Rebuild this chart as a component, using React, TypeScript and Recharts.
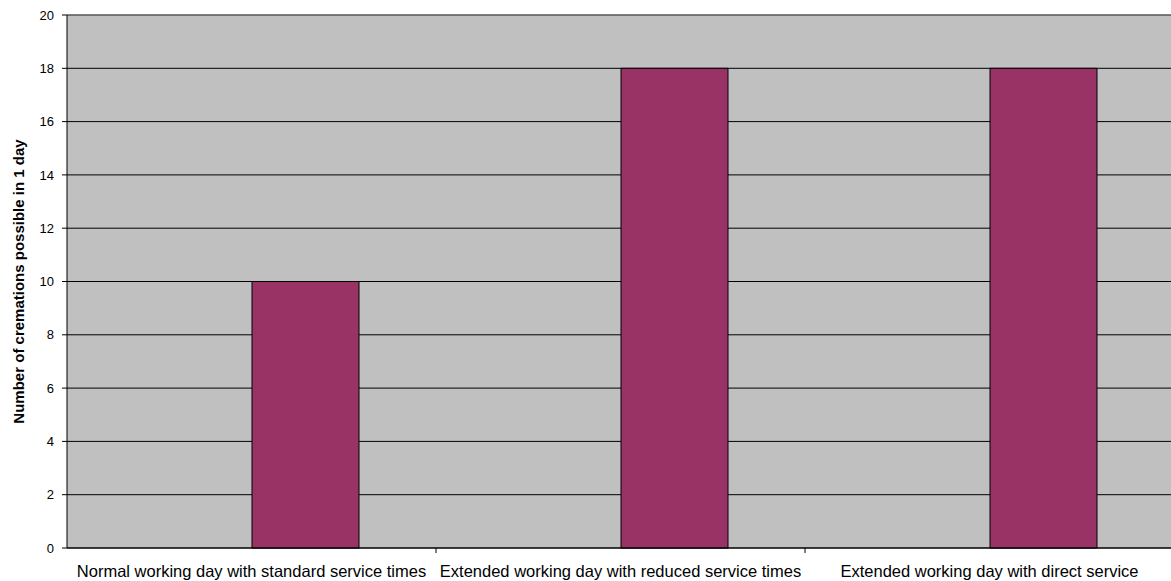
import React from "react";
import {
  BarChart,
  Bar,
  XAxis,
  YAxis,
  CartesianGrid,
  ReferenceLine,
  Label,
} from "recharts";

const categories = [
  "Normal working day with standard service times",
  "Extended working day with reduced service times",
  "Extended working day with direct service",
];
// the original chart has an empty first series, so the bars sit right of centre
const emptySeries: (number | null)[] = [null, null, null];
const cremations = [10, 18, 18];
const yTicks = [0, 2, 4, 6, 8, 10, 12, 14, 16, 18, 20];

const data = categories.map((name, i) => ({
  name,
  blank: emptySeries[i],
  value: cremations[i],
}));

const FONT = '"Liberation Sans", Arial, sans-serif';

function CategoryTick(props: any) {
  const { x, y, payload } = props;
  const left = x - (payload.offset ?? 0);
  return (
    <g>
      {payload.index > 0 && (
        <line x1={left} y1={y} x2={left} y2={y + 5} stroke="#000" />
      )}
      <text
        x={x}
        y={y + 29}
        textAnchor="middle"
        fontSize={16.5}
        fontFamily={FONT}
        fill="#000"
      >
        {payload.value}
      </text>
    </g>
  );
}

function YTitle(props: any) {
  const { viewBox } = props;
  const cx = 18;
  const cy = viewBox.y + viewBox.height / 2;
  return (
    <text
      x={cx}
      y={cy}
      transform={`rotate(-90 ${cx} ${cy})`}
      textAnchor="middle"
      dominantBaseline="central"
      fontSize={15}
      fontWeight="bold"
      fontFamily={FONT}
      fill="#000"
    >
      Number of cremations possible in 1 day
    </text>
  );
}

export default function App() {
  return (
    <div style={{ position: "absolute", left: 0, top: 0, width: 1171, height: 581, overflow: "hidden", background: "#fff" }}>
      <BarChart
        width={1180}
        height={581}
        data={data}
        margin={{ top: 15, right: 6, left: 0, bottom: 0 }}
        barCategoryGap={78}
        barGap={0}
      >
        <CartesianGrid
          vertical={false}
          stroke="#000"
          fill="#C0C0C0"
          fillOpacity={1}
        />
        <XAxis
          dataKey="name"
          height={33}
          axisLine={{ stroke: "#000" }}
          tickLine={false}
          tickSize={0}
          tickMargin={0}
          tick={<CategoryTick />}
          interval={0}
        />
        <YAxis
          width={67}
          domain={[0, 20]}
          ticks={yTicks}
          interval={0}
          axisLine={{ stroke: "#000" }}
          tickLine={{ stroke: "#000" }}
          tickSize={5}
          tickMargin={8}
          tick={{ fontSize: 13, fontFamily: FONT, fill: "#000" }}
        >
          <Label content={<YTitle />} />
        </YAxis>
        <ReferenceLine y={20} stroke="#808080" />
        <Bar dataKey="blank" fill="#9999FF" stroke="#000" isAnimationActive={false} />
        <Bar dataKey="value" fill="#993366" stroke="#000" isAnimationActive={false} />
      </BarChart>
    </div>
  );
}
